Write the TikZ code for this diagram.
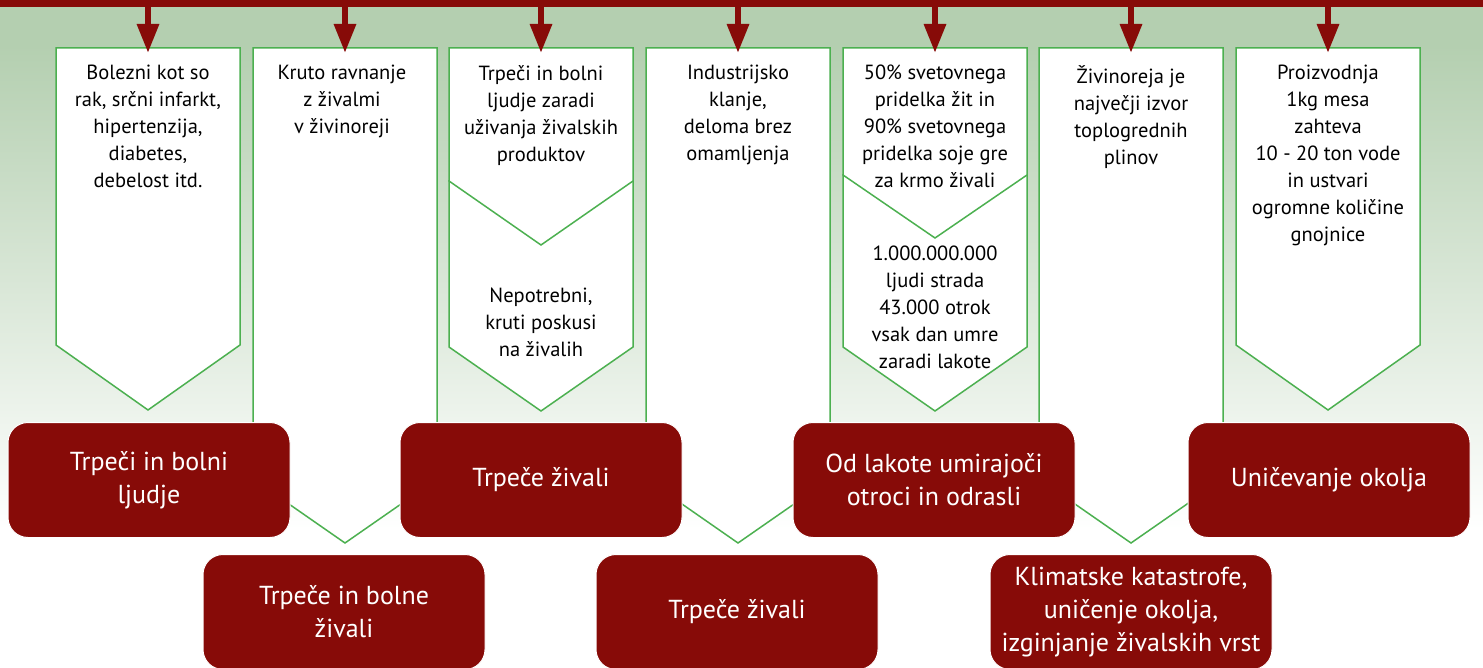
\documentclass[tikz,border=0pt]{standalone}
\usepackage{fontspec}
\setmainfont{PT Sans}
\usetikzlibrary{arrows.meta}

\definecolor{barred}{RGB}{135,11,8}
\definecolor{linegreen}{RGB}{76,176,80}
\definecolor{bggreen}{RGB}{180,207,176}

\tikzset{
  colshape/.style={draw=linegreen, fill=white, line width=1.5pt},
  coltext/.style={anchor=north, align=center, inner sep=0pt, font=\fontsize{20.5}{27}\selectfont},
  redbox/.style={rectangle, rounded corners=20pt, fill=barred, draw=white, line width=1pt,
    minimum width=282pt, minimum height=115pt, text=white, align=center,
    font=\fontsize{26}{33}\selectfont},
  downarrow/.style={draw=barred, line width=6pt, -{Triangle[width=21pt,length=29pt]}}
}

\begin{document}
\begin{tikzpicture}[x=1pt, y=-1pt]
  \useasboundingbox (0,0) rectangle (1483,668);

  % background
  \fill[bggreen] (0,0) rectangle (1483,45);
  \shade[top color=bggreen, bottom color=white] (0,45) rectangle (1483,530);
  \node (bar) [fill=barred, anchor=north west, minimum width=1483pt, minimum height=7pt, inner sep=0pt] at (0,0) {};

  % column shapes (lower part first)
  \foreach \cx/\ya/\yb/\yc in {148/48/345/410, 345/48/479/543, 541/181/347/411, 541/48/181/245,
      738/48/479/543, 935/175/347/411, 935/48/175/238, 1131/48/479/543, 1328/48/345/410}
    \draw[colshape] ({\cx-92},\ya) -- ({\cx+92},\ya) -- ({\cx+92},\yb) -- (\cx,\yc) -- ({\cx-92},\yb) -- cycle;

  % arrows from the bar
  \foreach \i/\cx in {1/148, 2/345, 3/541, 4/738, 5/935, 6/1131, 7/1328} {
    \coordinate (t\i) at (\cx,53);
    \draw[downarrow] (bar.south -| t\i) -- (t\i);
  }

  % column texts
  \node[coltext] (c1) at (148,65) {Bolezni kot so\\rak, srčni infarkt,\\hipertenzija,\\diabetes,\\debelost itd.};
  \node[coltext] (c2) at (342,65) {Kruto ravnanje\\z živalmi\\v živinoreji};
  \node[coltext] (c3a) at (541,65) {Trpeči in bolni\\ljudje zaradi\\uživanja živalskih\\produktov};
  \node[coltext] (c3b) at (541,288) {Nepotrebni,\\kruti poskusi\\na živalih};
  \node[coltext] (c4) at (738,65) {Industrijsko\\klanje,\\deloma brez\\omamljenja};
  \node[coltext] (c5a) at (935,65) {50\% svetovnega\\pridelka žit in\\90\% svetovnega\\pridelka soje gre\\za krmo živali};
  \node[coltext] (c5b) at (935,246) {1.000.000.000\\ljudi strada\\43.000 otrok\\vsak dan umre\\zaradi lakote};
  \node[coltext] (c6) at (1131,65) {Živinoreja je\\največji izvor\\toplogrednih\\plinov};
  \node[coltext] (c7) at (1328,65) {Proizvodnja\\1kg mesa\\zahteva\\10 - 20 ton vode\\in ustvari\\ogromne količine\\gnojnice};

  % result boxes
  \node[redbox] (b1) at (149,480) {Trpeči in bolni\\ljudje};
  \node[redbox] (b2) at (344,612) {Trpeče in bolne\\živali};
  \node[redbox] (b3) at (541,480) {Trpeče živali};
  \node[redbox] (b4) at (737,612) {Trpeče živali};
  \node[redbox] (b5) at (934,480) {Od lakote umirajoči\\otroci in odrasli};
  \node[redbox] (b6) at (1131,612) {Klimatske katastrofe,\\uničenje okolja,\\izginjanje živalskih vrst};
  \node[redbox] (b7) at (1329,480) {Uničevanje okolja};
\end{tikzpicture}
\end{document}
